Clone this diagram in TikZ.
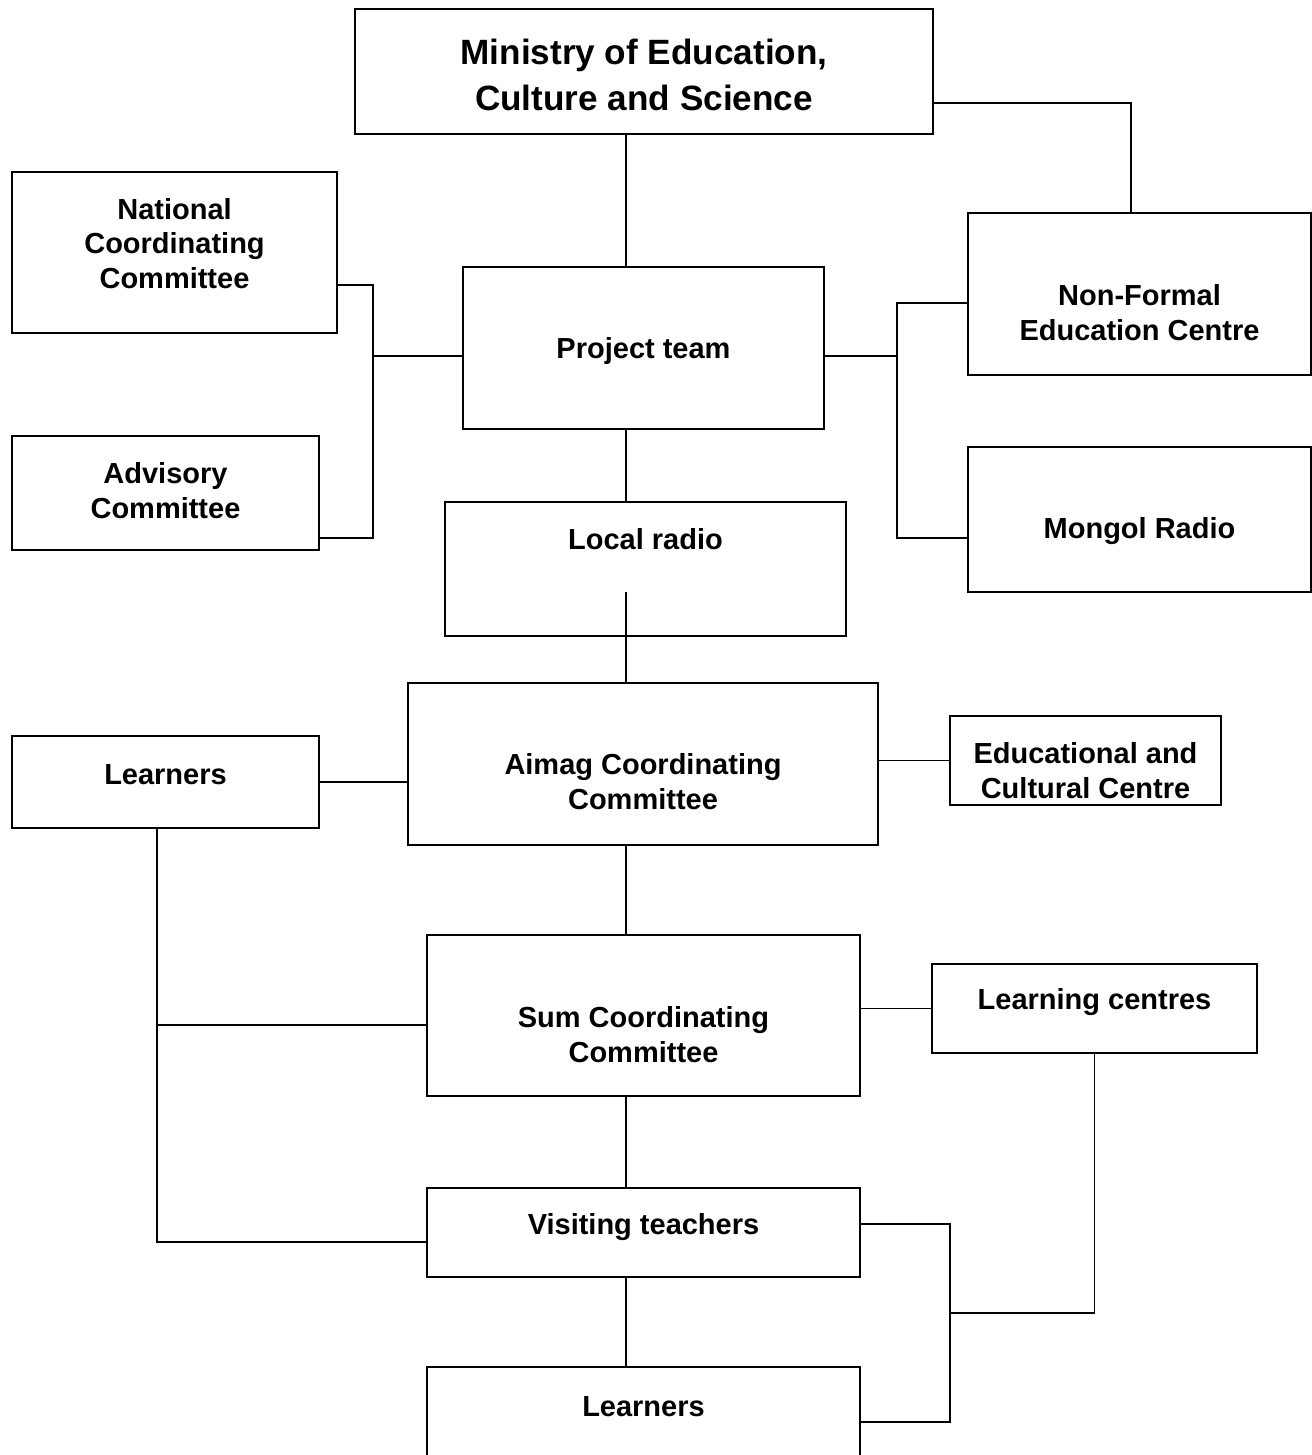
\documentclass[tikz,border=0pt]{standalone}
\usepackage{fontspec}
\setmainfont{Liberation Sans}
\tikzset{
  orgbox/.style={draw, line width=1pt, inner sep=0pt},
  boxtext/.style={font=\bfseries\fontsize{16.5}{19.8}\selectfont, align=center, inner sep=0pt},
  bigtext/.style={font=\bfseries\fontsize{20}{26.2}\selectfont, align=center, inner sep=0pt},
  link/.style={line width=0.8pt}
}
\begin{document}
\begin{tikzpicture}[x=0.02cm, y=-0.02cm]
\useasboundingbox (0,0) rectangle (1312,1455);
\clip (0,0) rectangle (1312,1455);
% boxes
\node[orgbox, minimum width=11.56cm, minimum height=2.5cm] (ministry) at (644,71.5) {};
\node[orgbox, minimum width=6.5cm, minimum height=3.22cm] (natcc) at (174.5,252.5) {};
\node[orgbox, minimum width=6.14cm, minimum height=2.28cm] (advisory) at (165.5,493) {};
\node[orgbox, minimum width=7.22cm, minimum height=3.24cm] (team) at (643.5,348) {};
\node[orgbox, minimum width=6.86cm, minimum height=3.24cm] (nfec) at (1139.5,294) {};
\node[orgbox, minimum width=6.86cm, minimum height=2.9cm] (mongol) at (1139.5,519.5) {};
\node[orgbox, minimum width=8.02cm, minimum height=2.68cm] (radio) at (645.5,569) {};
\node[orgbox, minimum width=9.4cm, minimum height=3.24cm] (aimag) at (643,764) {};
\node[orgbox, minimum width=5.42cm, minimum height=1.78cm] (ecc) at (1085.5,760.5) {};
\node[orgbox, minimum width=6.14cm, minimum height=1.84cm] (learnersa) at (165.5,782) {};
\node[orgbox, minimum width=8.66cm, minimum height=3.22cm] (sum) at (643.5,1015.5) {};
\node[orgbox, minimum width=6.5cm, minimum height=1.78cm] (lc) at (1094.5,1008.5) {};
\node[orgbox, minimum width=8.66cm, minimum height=1.78cm] (visiting) at (643.5,1232.5) {};
\node[orgbox, minimum width=8.66cm, minimum height=3.26cm] (learnersb) at (643.5,1448.5) {};
% texts
\node[bigtext] (ministry-txt) at ([yshift=-0.07cm]ministry) {Ministry of Education,\\Culture and Science};
\node[boxtext] (natcc-txt) at ([yshift=0.18cm]natcc) {National\\Coordinating\\Committee};
\node[boxtext] (advisory-txt) at ([yshift=0.05cm]advisory) {Advisory\\Committee};
\node[boxtext] (team-txt) at ([yshift=-0.06cm]team) {Project team};
\node[boxtext] (nfec-txt) at ([yshift=-0.37cm]nfec) {Non-Formal\\Education Centre};
\node[boxtext] (mongol-txt) at ([yshift=-0.23cm]mongol) {Mongol Radio};
\node[boxtext] (radio-txt) at ([yshift=0.6cm]radio) {Local radio};
\node[boxtext] (aimag-txt) at ([yshift=-0.36cm]aimag) {Aimag Coordinating\\Committee};
\node[boxtext] (ecc-txt) at ([yshift=-0.2cm]ecc) {Educational and\\Cultural Centre};
\node[boxtext] (learnersa-txt) at ([yshift=0.14cm]learnersa) {Learners};
\node[boxtext] (sum-txt) at ([yshift=-0.38cm]sum) {Sum Coordinating\\Committee};
\node[boxtext] (lc-txt) at ([yshift=0.13cm]lc) {Learning centres};
\node[boxtext] (visiting-txt) at ([yshift=0.11cm]visiting) {Visiting teachers};
\node[boxtext] (learnersb-txt) at ([yshift=0.83cm]learnersb) {Learners};
% connectors
\coordinate (spine) at (626,0);
\coordinate (leftbus) at (373,356);
\coordinate (rightbus) at (897,356);
\coordinate (radiostub) at (626,592);
\coordinate (learnbus) at (157,1025);
\coordinate (lcbus) at (950,1313);
\draw[link] (spine |- ministry.south) -- (spine |- team.north);
\draw[link] ([yshift=-0.63cm]ministry.east) -| ([xshift=-0.17cm]nfec.north);
\draw[link] ([yshift=-0.65cm]natcc.east) -| (leftbus) |- ([yshift=-0.9cm]advisory.east);
\draw[link] (leftbus) -- (leftbus -| team.west);
\draw[link] (team.east |- rightbus) -- (rightbus);
\draw[link] ([yshift=-0.18cm]nfec.west) -| (rightbus) |- ([yshift=-0.37cm]mongol.west);
\draw[link] (spine |- team.south) -- (spine |- radio.north);
\draw[link] (radiostub) -- (spine |- aimag.north);
\draw[link] (aimag.east |- ecc.west) -- (ecc.west);
\draw[link] (learnersa.east) -- (learnersa.east -| aimag.west);
\draw[link] ([xshift=-0.17cm]learnersa.south) |- ([yshift=-0.19cm]visiting.west);
\draw[link] (learnbus) -- (learnbus -| sum.west);
\draw[link] (spine |- aimag.south) -- (spine |- sum.north);
\draw[link] (lc.west -| sum.east) -- (lc.west);
\draw[link] (spine |- sum.south) -- (spine |- visiting.north);
\draw[link] (spine |- visiting.south) -- (spine |- learnersb.north);
\draw[link] ([yshift=0.17cm]visiting.east) -| (lcbus) |- ([yshift=0.53cm]learnersb.east);
\draw[link] (lcbus) -| (lc.south);
\end{tikzpicture}
\end{document}
